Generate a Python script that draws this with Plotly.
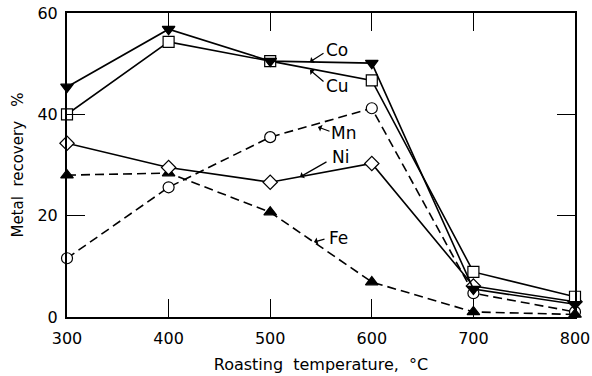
import plotly.graph_objects as go

temps = [300, 400, 500, 600, 700, 800]
co = [45.4, 56.8, 50.5, 50.1, 5.5, 2.5]
cu = [40.0, 54.3, 50.5, 46.7, 8.9, 4.0]
mn = [11.6, 25.6, 35.5, 41.2, 4.7, 1.0]
ni = [34.3, 29.5, 26.6, 30.3, 6.1, 3.0]
fe = [28.0, 28.4, 20.7, 6.9, 1.0, 0.5]

x_ticks = [300, 400, 500, 600, 700, 800]
y_ticks = [0, 20, 40, 60]

font = "DejaVu Sans"
fig = go.Figure()

def add(y, symbol, filled, dash, name):
    fig.add_trace(go.Scatter(
        x=temps, y=y, mode="lines+markers", name=name,
        line=dict(color="black", width=1.6, dash=dash),
        marker=dict(symbol=symbol, size=11, color="black" if filled else "white",
                    line=dict(color="black", width=1.2)),
        cliponaxis=False, showlegend=False))

add(mn, "circle", False, "9px,5px", "Mn")
add(fe, "triangle-up", True, "9px,5px", "Fe")
add(ni, "diamond", False, "solid", "Ni")
add(cu, "square", False, "solid", "Cu")
add(co, "triangle-down", True, "solid", "Co")

labels = [
    ("Co", 337, 50, 310, 62),
    ("Cu", 337, 86, 310, 70),
    ("Mn", 343, 133, 318, 127),
    ("Ni", 340, 157, 300, 177),
    ("Fe", 338, 238, 314, 242),
]
for t, tx, ty, px, py in labels:
    fig.add_annotation(xref="paper", yref="paper",
                       x=(tx - 67) / 508, y=1 - (ty - 13) / 304,
                       text=t, showarrow=False, xanchor="center", yanchor="middle",
                       font=dict(family=font, size=17, color="black"))
    fig.add_annotation(xref="paper", yref="paper", axref="pixel", ayref="pixel",
                       x=(px - 67) / 508, y=1 - (py - 13) / 304,
                       ax=(tx - 12 - px), ay=(ty - py) * 0.8,
                       text="", showarrow=True, arrowhead=1, arrowsize=1, arrowwidth=1.2,
                       arrowcolor="black")

axis_common = dict(showline=True, linecolor="black", linewidth=2, mirror="ticks",
                   ticks="inside", ticklen=18, tickwidth=1.2, tickcolor="black",
                   showgrid=False, zeroline=False, automargin=False,
                   tickfont=dict(family=font, size=16, color="black"))

fig.update_xaxes(range=[300, 800], tickvals=x_ticks, ticktext=[str(v) for v in x_ticks],
                 ticklabelstandoff=6,
                 title=dict(text="Roasting  temperature,  °C", standoff=12,
                            font=dict(family=font, size=16, color="black")),
                 **axis_common)
fig.update_yaxes(range=[0, 60], tickvals=y_ticks, ticktext=[str(v) for v in y_ticks],
                 ticklabelstandoff=4,
                 title=dict(text="Metal  recovery   %", standoff=10,
                            font=dict(family=font, size=15, color="black")),
                 **axis_common)

fig.update_layout(width=592, height=376, margin=dict(l=67, r=17, t=13, b=59),
                  plot_bgcolor="white", paper_bgcolor="white")

fig.write_html("out.html")
